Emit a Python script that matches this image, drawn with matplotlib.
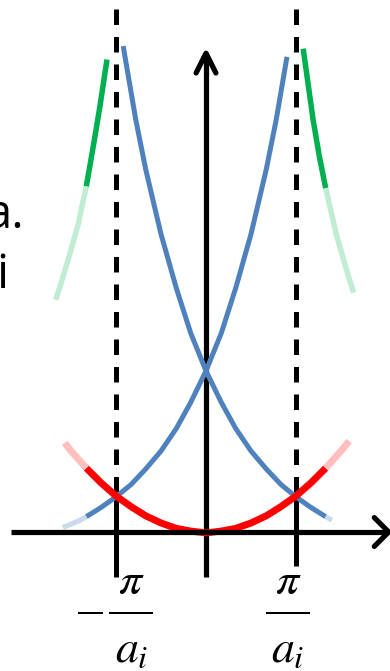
import numpy as np
import matplotlib
matplotlib.use("Agg")
import matplotlib.pyplot as plt

plt.rcParams["mathtext.fontset"] = "stix"

# x in units of pi/a_i, y in the same units (equal aspect)
band_x = np.array([-1.59, -1.40, -1.33, -1.17, -1.0, -0.83, -0.67, -0.5, -0.33, -0.17,
                   0.0, 0.17, 0.33, 0.5, 0.67, 0.78, 0.9, 0.92])
band_y = np.array([0.05, 0.13, 0.17, 0.27, 0.39, 0.53, 0.70, 0.90, 1.15, 1.44,
                   1.79, 2.21, 2.71, 3.31, 4.03, 4.58, 5.28, 5.40])

# next band outside the first zone
green_left_x = np.array([-1.67, -1.60, -1.53, -1.42, -1.33, -1.25, -1.18, -1.10])
green_left_y = np.array([2.58, 2.80, 3.03, 3.42, 3.84, 4.30, 4.72, 5.25])
green_right_x = np.array([1.08, 1.19, 1.26, 1.33, 1.45, 1.58, 1.64])
green_right_y = np.array([5.37, 4.58, 4.17, 3.82, 3.30, 2.85, 2.66])

parab_x = np.array([-1.57, -1.5, -1.33, -1.17, -1.0, -0.83, -0.67, -0.5, -0.33, -0.17, 0.0,
                    0.17, 0.33, 0.5, 0.67, 0.83, 1.0, 1.17, 1.33, 1.5, 1.59])
parab_y = np.array([0.99, 0.90, 0.71, 0.55, 0.40, 0.28, 0.18, 0.10, 0.04, 0.01, -0.01,
                    0.01, 0.04, 0.10, 0.18, 0.28, 0.40, 0.55, 0.71, 0.90, 1.01])

zone_edge = 1.33   # beyond this the curves are drawn pale
zone_ticks = [-1.0, 1.0]
tick_labels = ["-", ""]

BLUE, BLUE_PALE = "#4F81BD", "#CADAEB"
RED, RED_PALE = "#FF0000", "#FFBFBF"
GREEN, GREEN_PALE = "#00B050", "#C0ECD3"

PX = 0.72  # points per pixel at dpi 100


def draw_split(ax, x, y, color, pale, lw, z):
    x = np.asarray(x)
    y = np.asarray(y)
    eps = 1e-9
    inner = np.abs(x) <= zone_edge + eps
    kw = dict(lw=lw, solid_capstyle="butt", solid_joinstyle="round", zorder=z)
    if inner.sum() >= 2:
        ax.plot(x[inner], y[inner], color=color, **kw)
    for m in (x <= -zone_edge + eps, x >= zone_edge - eps):
        if m.sum() >= 2:
            ax.plot(x[m], y[m], color=pale, **kw)


fig = plt.figure(figsize=(3.9, 6.71), dpi=100)
ax = fig.add_axes([0, 0, 1, 1])
ax.set_xlim(-206 / 90, 184 / 90)
ax.set_ylim(-139 / 90, 532 / 90)
ax.axis("off")

# axes with open arrow heads
axis_kw = dict(color="black", lw=5.2 * PX, solid_capstyle="butt", solid_joinstyle="round")
y_top, x_right = 5.32, 2.03
ax.plot([0, 0], [-0.5, y_top], zorder=1, **axis_kw)
ax.plot([-2.17, x_right], [0, 0], zorder=4, **axis_kw)
head_kw = dict(color="black", lw=5.2 * PX, solid_capstyle="round", solid_joinstyle="round")
ax.plot([-0.11, 0, 0.11], [y_top - 0.22, y_top, y_top - 0.22], zorder=4, **head_kw)
ax.plot([x_right - 0.16, x_right, x_right - 0.16], [0.16, 0, -0.16], zorder=4, **head_kw)

# zone boundaries: dashed above the crossing, solid tick below
for xt, tick_bottom in zip(zone_ticks, [-0.5, -0.38]):
    ax.plot([xt, xt], [0.44, 6.0], color="black", lw=5 * PX,
            linestyle=(0, (3.1, 2.4)), dash_capstyle="butt", zorder=1)
    ax.plot([xt, xt], [tick_bottom, 0.39], color="black", lw=5 * PX,
            solid_capstyle="butt", zorder=1)

# blue bands: rising branch and its mirror
rise = band_x <= 0.9
draw_split(ax, band_x[rise], band_y[rise], BLUE, BLUE_PALE, 5 * PX, 2)
fall = band_x >= -1.40
draw_split(ax, -band_x[fall][::-1], band_y[fall][::-1], BLUE, BLUE_PALE, 5 * PX, 2)

# green branches of the next band
draw_split(ax, green_left_x, green_left_y, GREEN, GREEN_PALE, 5.5 * PX, 2)
draw_split(ax, green_right_x, green_right_y, GREEN, GREEN_PALE, 5.5 * PX, 2)

# free-electron parabola
draw_split(ax, parab_x, parab_y, RED, RED_PALE, 7 * PX, 3)

# pi / a_i labels under the zone boundaries
for xt, sign in zip(zone_ticks, tick_labels):
    cx = xt + 0.17 if xt < 0 else xt - 0.09
    ax.text(cx, -0.69, r"$\pi$", fontsize=33, ha="center", va="baseline")
    ax.plot([cx - 0.245, cx + 0.245], [-0.9, -0.9], color="black", lw=2 * PX,
            solid_capstyle="butt")
    ax.text(cx, -1.44, r"$a_i$", fontsize=33, ha="center", va="baseline")
    if sign:
        ax.plot([cx - 0.59, cx - 0.31], [-0.9, -0.9], color="black", lw=2 * PX,
                solid_capstyle="butt")

# fragments of the slide text at the left edge
ax.text(-2.01, 3.378, "a.", fontsize=34, family="Open Sans", ha="right", va="baseline")
ax.text(-2.2, 2.71, "i", fontsize=34, family="Open Sans", ha="right", va="baseline")

fig.savefig("out.png", dpi=100)
